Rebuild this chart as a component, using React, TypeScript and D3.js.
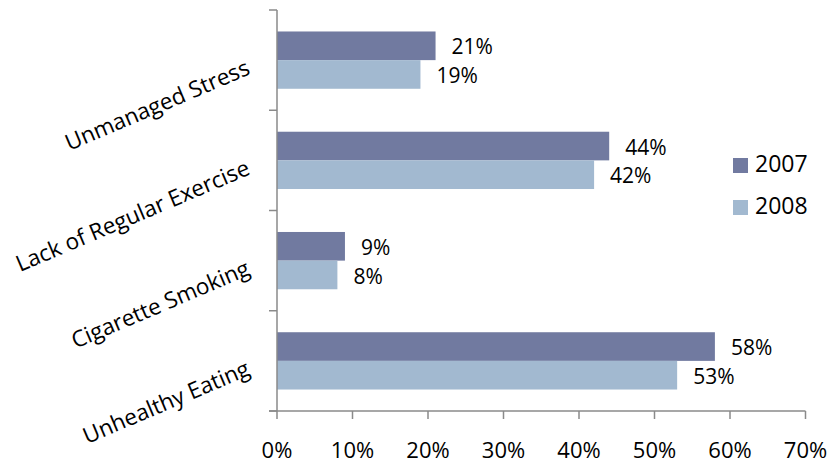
import React from "react";
import * as d3 from "d3";

const categories = ["Unmanaged Stress", "Lack of Regular Exercise", "Cigarette Smoking", "Unhealthy Eating"];
const seriesNames = ["2007", "2008"];
const values2007 = [21, 44, 9, 58];
const values2008 = [19, 42, 8, 53];
const xTicks = [0, 10, 20, 30, 40, 50, 60, 70];
const colors = ["#717AA0", "#A2B9D0"];

const W = 827, H = 466;
const FONT = "'Open Sans', Lato, sans-serif";

export default function App() {
  const x = d3.scaleLinear().domain([0, 70]).range([277, 805.5]);
  const y = d3.scaleBand().domain(categories).range([10, 411]).paddingInner(0).paddingOuter(0);
  const inner = d3.scaleBand().domain(seriesNames).range([0, y.bandwidth()]).paddingOuter(0.75).paddingInner(0);
  const series = [values2007, values2008];
  const axisColor = "#8a8a8a";
  return (
    <svg width={W} height={H} style={{ position: "absolute", left: 0, top: 0, background: "#fff" }}>
      {categories.map((c, ci) =>
        series.map((vals, si) => {
          const yy = (y(c) as number) + (inner(seriesNames[si]) as number);
          const bw = inner.bandwidth();
          return (
            <g key={c + si}>
              <rect x={x(0)} y={yy} width={x(vals[ci]) - x(0)} height={bw} fill={colors[si]} />
              <text x={x(vals[ci]) + 16} y={yy + bw / 2 + 3} dominantBaseline="middle" fontFamily={FONT} fontSize={21} fill="#000">
                {vals[ci]}%
              </text>
            </g>
          );
        })
      )}
      {/* y axis */}
      <line x1={277} x2={277} y1={10} y2={411} stroke={axisColor} strokeWidth={1.5} />
      {[...categories.map((c) => y(c) as number), 411].map((t, i) => (
        <line key={"yt" + i} x1={269} x2={277} y1={t} y2={t} stroke={axisColor} strokeWidth={1.5} />
      ))}
      {/* x axis */}
      <line x1={269} x2={x(70)} y1={411} y2={411} stroke={axisColor} strokeWidth={1.5} />
      {xTicks.map((t) => (
        <g key={"xt" + t}>
          <line x1={x(t)} x2={x(t)} y1={411} y2={419} stroke={axisColor} strokeWidth={1.5} />
          <text x={x(t)} y={452} textAnchor="middle" dominantBaseline="middle" fontFamily={FONT} fontSize={22} fill="#000">
            {t}%
          </text>
        </g>
      ))}
      {categories.map((c) => {
        const cy = (y(c) as number) + y.bandwidth() / 2 + 8;
        return (
          <text key={"cl" + c} x={249} y={cy} textAnchor="end" dominantBaseline="middle" fontFamily={FONT} fontSize={22.5}
            transform={`rotate(-23, 249, ${cy})`} fill="#000">
            {c}
          </text>
        );
      })}
      {seriesNames.map((s, i) => (
        <g key={"lg" + s}>
          <rect x={733} y={158 + i * 42} width={15} height={15} fill={colors[i]} />
          <text x={755} y={166 + i * 42} dominantBaseline="middle" fontFamily={FONT} fontSize={23} fill="#000">{s}</text>
        </g>
      ))}
    </svg>
  );
}
